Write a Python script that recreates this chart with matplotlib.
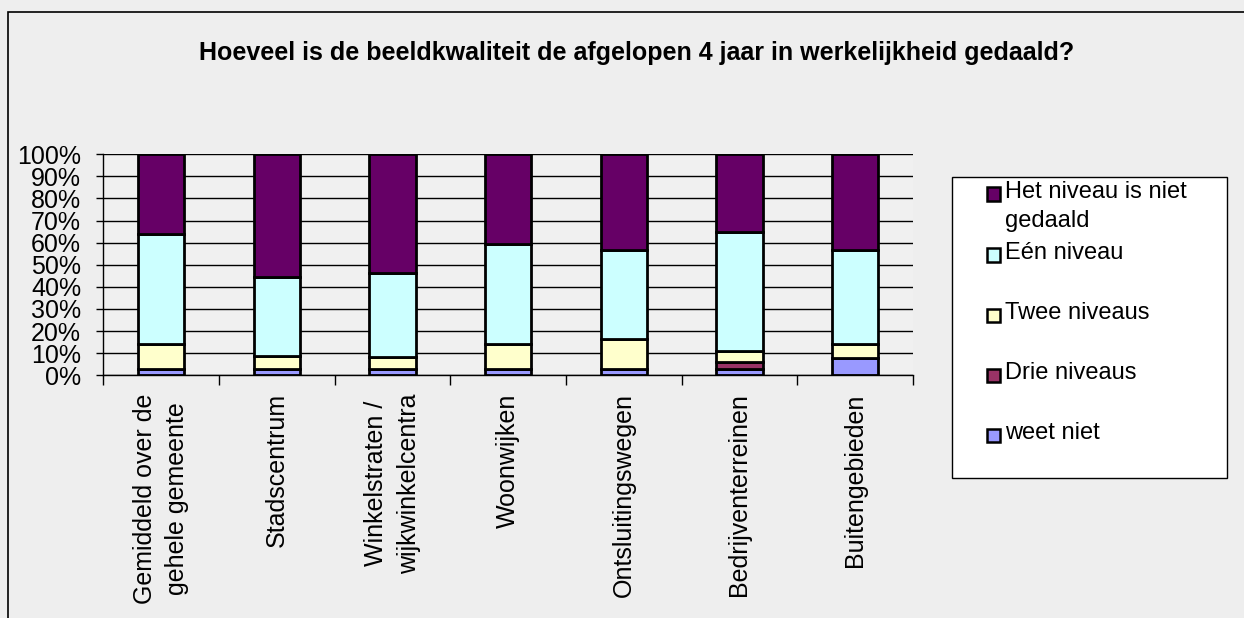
import matplotlib
matplotlib.use('Agg')
import matplotlib.pyplot as plt
from matplotlib.patches import Rectangle
import numpy as np

plt.rcParams['font.family'] = ['Liberation Sans', 'DejaVu Sans']

# 数据
categories = ['Gemiddeld over de\ngehele gemeente', 'Stadscentrum',
              'Winkelstraten /\nwijkwinkelcentra', 'Woonwijken',
              'Ontsluitingswegen', 'Bedrijventerreinen', 'Buitengebieden']
weet_niet = [2.8, 2.8, 2.8, 2.8, 2.8, 2.8, 8.0]
drie_niveaus = [0.0, 0.0, 0.0, 0.0, 0.0, 3.1, 0.0]
twee_niveaus = [11.2, 6.1, 5.3, 11.2, 13.5, 5.2, 6.0]
een_niveau = [49.8, 35.6, 38.3, 45.5, 40.4, 53.9, 42.7]
niet_gedaald = [36.2, 55.5, 53.6, 40.5, 43.3, 35.0, 43.3]

series_labels = ['weet niet', 'Drie niveaus', 'Twee niveaus', 'Eén niveau',
                 'Het niveau is niet\ngedaald']
series_values = [weet_niet, drie_niveaus, twee_niveaus, een_niveau, niet_gedaald]
series_colors = ['#9999FF', '#993366', '#FFFFCC', '#CCFFFF', '#660066']

title = 'Hoeveel is de beeldkwaliteit de afgelopen 4 jaar in werkelijkheid gedaald?'

W, H = 1244, 618
fig = plt.figure(figsize=(W / 100, H / 100), dpi=100)
fig.patch.set_facecolor('#EEEEEE')

# 外框
fig.patches.append(Rectangle((8 / W, -0.1), 1.2, 1.1 - 12 / H, transform=fig.transFigure,
                             facecolor='none', edgecolor='black', linewidth=1.2))

ax = fig.add_axes([103.3 / W, 1 - 375.3 / H, 809.7 / W, 221 / H])
ax.set_facecolor('#F0F0F0')

x = np.arange(len(categories))
bottom = np.zeros(len(categories))
for label, vals, color in zip(series_labels, series_values, series_colors):
    vals = np.array(vals)
    ax.bar(x, vals, width=0.4, bottom=bottom, color=color, edgecolor='black',
           linewidth=2.0, label=label, zorder=3)
    bottom += vals

ax.set_xlim(-0.5, len(categories) - 0.5)
ax.set_ylim(0, 100)
ax.set_yticks(np.arange(0, 101, 10))
ax.set_yticklabels([f'{v}%' for v in range(0, 101, 10)], fontsize=18)
ax.yaxis.grid(True, color='black', linewidth=1.0, zorder=1)

ax.set_xticks(x)
ax.set_xticklabels(categories, rotation=90, fontsize=18, linespacing=1.45,
                   multialignment='center')
ax.set_xticks(np.arange(-0.5, len(categories), 1), minor=True)
ax.tick_params(axis='x', which='major', length=0, pad=13)
ax.tick_params(axis='x', which='minor', length=7, width=1, color='black')
ax.tick_params(axis='y', length=5, width=1, pad=11)

for side in ['top', 'right']:
    ax.spines[side].set_visible(False)
ax.spines['left'].set_linewidth(1.0)
ax.spines['bottom'].set_linewidth(1.0)
ax.spines['bottom'].set_zorder(4)

fig.text(637 / W, 1 - 53 / H, title, ha='center', va='center', fontsize=18,
         fontweight='bold')

# 图例（手动绘制）
fig.patches.append(Rectangle((952 / W, 1 - 478 / H), 275 / W, 301 / H,
                             transform=fig.transFigure, facecolor='white',
                             edgecolor='black', linewidth=1.0))
legend_y = [194, 255, 315, 375, 435]
for yy, label, color in zip(legend_y, series_labels[::-1], series_colors[::-1]):
    fig.patches.append(Rectangle((987 / W, 1 - (yy + 6.5) / H), 13 / W, 13 / H,
                                 transform=fig.transFigure, facecolor=color,
                                 edgecolor='black', linewidth=1.8))
    fig.text(1005 / W, 1 - (yy - 13) / H, label, ha='left', va='top',
             fontsize=17, linespacing=1.4)

plt.savefig('out.png', dpi=100, facecolor=fig.get_facecolor())
